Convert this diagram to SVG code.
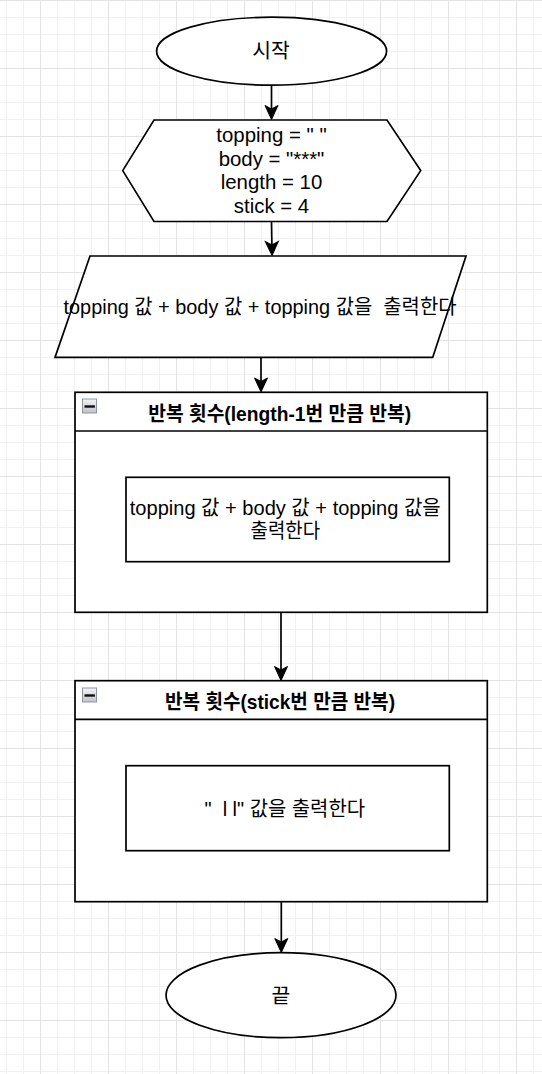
<svg xmlns="http://www.w3.org/2000/svg" width="542" height="1074" viewBox="0 0 542 1074">
<style>
.shape{fill:#ffffff;stroke:#000000;stroke-width:1.7}
.edge{fill:none;stroke:#000000;stroke-width:1.7}
.t{font-family:"Liberation Sans","Noto Sans CJK KR",sans-serif;font-size:20.4px;fill:#000000;text-anchor:middle}
.b{font-weight:bold}
.icon{fill:url(#ig);stroke:#8d95a3;stroke-width:1}
.minus{fill:#111111}
</style>
<defs>
<pattern id="grid" patternUnits="userSpaceOnUse" x="40" y="0" width="68" height="68">
<path d="M17.5 0V68M34.5 0V68M51.5 0V68M0 17.5H68M0 34.5H68M0 51.5H68" fill="none" stroke="#f1f1f1" stroke-width="1"/>
<path d="M0.5 0V68M0 0.5H68" fill="none" stroke="#e3e3e3" stroke-width="1"/>
</pattern>
<linearGradient id="ig" x1="0" y1="0" x2="0" y2="1">
<stop offset="0" stop-color="#f4f4f6"/>
<stop offset="1" stop-color="#bfc3cb"/>
</linearGradient>
<marker id="arrow" markerUnits="userSpaceOnUse" markerWidth="16" markerHeight="16" refX="3.5" refY="6.5" orient="auto" overflow="visible">
<path d="M0,0 L14,6.5 L0,13 L3.5,6.5 Z" fill="#000000" stroke="#000000" stroke-width="1"/>
</marker>
</defs>
<rect x="0" y="0" width="542" height="1074" fill="#ffffff"/>
<rect x="0" y="0" width="542" height="1074" fill="url(#grid)"/>

<g id="connectors">
<path class="edge" d="M271.5 85V109" marker-end="url(#arrow)"/>
<path class="edge" d="M271.5 221L271.9 245" marker-end="url(#arrow)"/>
<path class="edge" d="M261 357.5V381.5" marker-end="url(#arrow)"/>
<path class="edge" d="M281 612.3V670" marker-end="url(#arrow)"/>
<path class="edge" d="M281.3 901.7V942" marker-end="url(#arrow)"/>
</g>

<g id="start">
<ellipse class="shape" cx="271.6" cy="51.2" rx="115" ry="34"/>
<text class="t" x="271" y="58">시작</text>
</g>

<g id="init">
<polygon class="shape" points="122.7,170.6 154,120 387,120 420.7,170.6 387,221.5 154,221.5"/>
<text class="t" x="271.5" y="142">topping = " "</text>
<text class="t" x="271.5" y="165.5">body = "***"</text>
<text class="t" x="271.5" y="189">length = 10</text>
<text class="t" x="271.5" y="212.5">stick = 4</text>
</g>

<g id="output1">
<polygon class="shape" points="90,256 466,256 432.7,357.4 55,357.4"/>
<text class="t" x="260" y="314" textLength="393" lengthAdjust="spacingAndGlyphs" xml:space="preserve">topping 값 + body 값 + topping 값을  출력한다</text>
</g>

<g id="loop1">
<rect class="shape" x="75" y="392.3" width="412.3" height="220"/>
<line class="edge" x1="75" y1="431" x2="487.3" y2="431"/>
<rect class="icon" x="82.5" y="399" width="14" height="14"/>
<rect class="minus" x="84.5" y="405.3" width="10.4" height="2.4"/>
<text class="t b" x="279.7" y="420.7" textLength="263" lengthAdjust="spacingAndGlyphs">반복 횟수(length-1번 만큼 반복)</text>
</g>

<g id="print1">
<rect class="shape" x="126" y="477.3" width="323.3" height="84.4"/>
<text class="t" x="285.3" y="515" textLength="311" lengthAdjust="spacingAndGlyphs">topping 값 + body 값 + topping 값을</text>
<text class="t" x="285.3" y="538.3" textLength="69.5" lengthAdjust="spacingAndGlyphs">출력한다</text>
</g>

<g id="loop2">
<rect class="shape" x="75" y="680.7" width="412.3" height="221"/>
<line class="edge" x1="75" y1="719.3" x2="487.3" y2="719.3"/>
<rect class="icon" x="82.5" y="688" width="14" height="14"/>
<rect class="minus" x="84.5" y="694.3" width="10.4" height="2.4"/>
<text class="t b" x="280" y="709.3" textLength="230" lengthAdjust="spacingAndGlyphs">반복 횟수(stick번 만큼 반복)</text>
</g>

<g id="print2">
<rect class="shape" x="126" y="765.7" width="323.3" height="85"/>
<text class="t" x="284.8" y="816" textLength="160.5" lengthAdjust="spacingAndGlyphs" xml:space="preserve">"  l l" 값을 출력한다</text>
</g>

<g id="end">
<ellipse class="shape" cx="281" cy="995.2" rx="115" ry="42.5"/>
<text class="t" x="281" y="1003">끝</text>
</g>
</svg>
